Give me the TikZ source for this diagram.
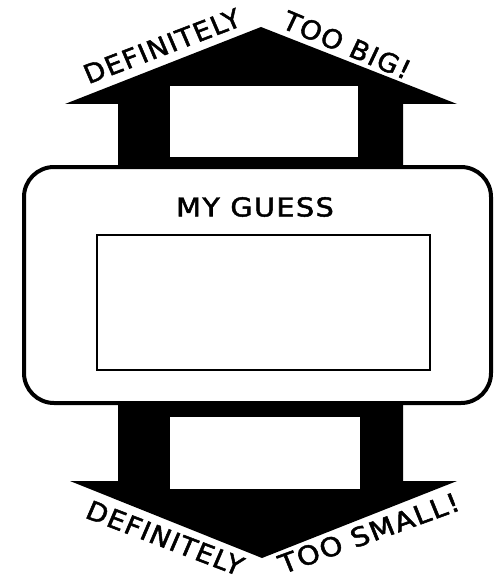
\documentclass[tikz,border=0pt]{standalone}
\usepackage{fontspec}
\setmainfont{DejaVu Sans}
\newfontfamily\comicfont{DejaVu Sans}[LetterSpace=5,FakeBold=1.8]
\begin{document}
\begin{tikzpicture}[x=1pt,y=-1pt]
\tikzset{
  lbl/.style={font=\comicfont\fontsize{26}{26}\selectfont, inner sep=0pt, anchor=center, xscale=1.06},
  arrowfill/.style={fill=black},
  hole/.style={fill=white},
  bigbox/.style={draw=black, line width=4pt, fill=white, rounded corners=30pt},
  answerbox/.style={draw=black, line width=1.6pt, fill=white}
}
\useasboundingbox (0,0) rectangle (497,588);
% top arrow
\fill[arrowfill] (118,170) -- (118,104) -- (65,104) -- (261,27) -- (457,104) -- (403,104) -- (403,170) -- cycle;
\fill[hole] (170,86) rectangle (358,157);
% bottom arrow
\fill[arrowfill] (118,400) -- (118,481) -- (70,481) -- (262,558) -- (457,481) -- (403,481) -- (403,400) -- cycle;
\fill[hole] (170,417) rectangle (360,489);
% main box
\draw[bigbox] (24,167) rectangle (491,403);
\node[answerbox, minimum width=333pt, minimum height=135pt, inner sep=0pt] (answer) at (263.5,302.5) {};
\node[lbl, xscale=1.04] (guess) at (255,207) {MY GUESS};
% labels
\node[lbl, rotate=22] (defbig) at (162,46) {DEFINITELY};
\node[lbl, rotate=-24] (toobig) at (347,45) {TOO BIG!};
\node[lbl, rotate=-22] (defsmall) at (165,538) {DEFINITELY};
\node[lbl, rotate=21, xscale=1.05] (toosmall) at (369,533) {TOO SMALL!};
\end{tikzpicture}
\end{document}
